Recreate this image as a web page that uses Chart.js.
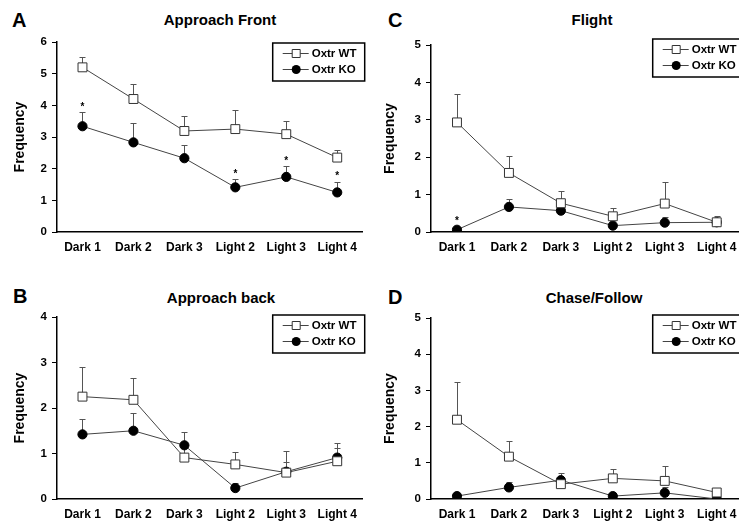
<!DOCTYPE html>
<html>
<head>
<meta charset="utf-8">
<script src="https://cdn.jsdelivr.net/npm/chart.js@4.4.0/dist/chart.umd.min.js"></script>
<style>
  html, body { margin: 0; padding: 0; background: #fff; }
  #wrap { position: relative; width: 739px; height: 521px; overflow: hidden; font-family: Arial, "Liberation Sans", sans-serif; color: #000; }
  canvas { position: absolute; }
  .letter { position: absolute; font-weight: bold; font-size: 20px; line-height: 20px; }
  .title { position: absolute; font-weight: bold; font-size: 15px; line-height: 15px; white-space: nowrap; transform: translateX(-50%); }
</style>
</head>
<body>
<div id="wrap">
  <div class="letter" style="left:12px;top:10px">A</div>
  <div class="title" style="left:220px;top:12px">Approach Front</div>
  <div class="letter" style="left:388px;top:10px">C</div>
  <div class="title" style="left:592px;top:12px">Flight</div>
  <div class="letter" style="left:13px;top:286px">B</div>
  <div class="title" style="left:221px;top:290px">Approach back</div>
  <div class="letter" style="left:388px;top:287px">D</div>
  <div class="title" style="left:594px;top:290px">Chase/Follow</div>

  <canvas id="front" width="370" height="260" style="left:0;top:0"></canvas>
  <canvas id="flight" width="380" height="260" style="left:370px;top:0"></canvas>
  <canvas id="back" width="370" height="261" style="left:0;top:260px"></canvas>
  <canvas id="chase" width="380" height="261" style="left:370px;top:260px"></canvas>
</div>

<script>
const phases = ['Dark 1', 'Dark 2', 'Dark 3', 'Light 2', 'Light 3', 'Light 4'];
const seriesNames = ['Oxtr WT', 'Oxtr KO'];

// Approach Front
const frontWT = [5.2, 4.2, 3.19, 3.25, 3.09, 2.35];
const frontWTErr = [0.33, 0.48, 0.47, 0.61, 0.42, 0.23];
const frontKO = [3.34, 2.83, 2.33, 1.41, 1.74, 1.25];
const frontKOErr = [0.44, 0.6, 0.42, 0.25, 0.33, 0.34];
const frontStars = [1, 0, 0, 1, 1, 1];

// Approach back
const backWT = [2.25, 2.18, 0.91, 0.76, 0.58, 0.83];
const backWTErr = [0.65, 0.47, 0.22, 0.28, 0.48, 0.41];
const backKO = [1.42, 1.5, 1.18, 0.24, 0.6, 0.91];
const backKOErr = [0.33, 0.39, 0.29, 0.12, 0.21, 0.22];
const backStars = [0, 0, 0, 0, 0, 0];

// Flight
const flightWT = [2.93, 1.58, 0.77, 0.42, 0.76, 0.26];
const flightWTErr = [0.76, 0.46, 0.33, 0.22, 0.57, 0.16];
const flightKO = [0.06, 0.67, 0.57, 0.17, 0.25, 0.26];
const flightKOErr = [0, 0.2, 0.08, 0.05, 0.16, 0.1];
const flightStars = [1, 0, 0, 0, 0, 0];

// Chase/Follow
const chaseWT = [2.19, 1.17, 0.41, 0.57, 0.5, 0.18];
const chaseWTErr = [1.05, 0.43, 0.1, 0.26, 0.42, 0.05];
const chaseKO = [0.08, 0.32, 0.52, 0.08, 0.17, 0];
const chaseKOErr = [0, 0.15, 0.19, 0, 0.15, 0];
const chaseStars = [0, 0, 0, 0, 0, 0];

const FONT = 'Arial, "Liberation Sans", sans-serif';
const LINE = '#444';

// error bars (upper whisker only) + significance stars
const errorBars = {
  id: 'errorBars',
  beforeDatasetsDraw(chart) {
    const {ctx, scales: {y}} = chart;
    ctx.save();
    ctx.strokeStyle = '#555';
    ctx.lineWidth = 1;
    chart.data.datasets.forEach((ds, i) => {
      chart.getDatasetMeta(i).data.forEach((pt, j) => {
        const err = ds.errorBars[j];
        if (!err) return;
        const top = Math.round(y.getPixelForValue(ds.data[j] + err)) + 0.5;
        const x = Math.round(pt.x) + 0.5;
        ctx.beginPath();
        ctx.moveTo(x, pt.y);
        ctx.lineTo(x, top);
        ctx.moveTo(x - 3, top);
        ctx.lineTo(x + 3, top);
        ctx.stroke();
      });
    });
    ctx.restore();
  },
  afterDatasetsDraw(chart) {
    const {ctx, scales: {y}} = chart;
    ctx.save();
    ctx.fillStyle = '#000';
    ctx.font = 'bold 10px ' + FONT;
    ctx.textAlign = 'center';
    ctx.textBaseline = 'middle';
    chart.data.datasets.forEach((ds, i) => {
      if (!ds.stars) return;
      chart.getDatasetMeta(i).data.forEach((pt, j) => {
        if (!ds.stars[j]) return;
        const top = y.getPixelForValue(ds.data[j] + (ds.errorBars[j] || 0));
        ctx.fillText('*', pt.x, Math.min(top, pt.y - 4) - 5);
      });
    });
    ctx.restore();
  }
};

// boxed legend inside the plot, top right
const boxLegend = {
  id: 'boxLegend',
  afterDraw(chart, args, opts) {
    const {ctx, chartArea} = chart;
    const left = chartArea.right - 90;
    const top = chartArea.top + opts.dy;
    ctx.save();
    ctx.strokeStyle = '#000';
    ctx.lineWidth = 1.5;
    ctx.fillStyle = '#fff';
    ctx.fillRect(left, top, 92, 38);
    ctx.strokeRect(left, top, 92, 38);
    chart.data.datasets.forEach((ds, i) => {
      const yy = top + 10.5 + i * 16;
      ctx.strokeStyle = LINE;
      ctx.lineWidth = 1;
      ctx.beginPath();
      ctx.moveTo(left + 10, yy);
      ctx.lineTo(left + 36, yy);
      ctx.stroke();
      ctx.beginPath();
      if (ds.pointStyle === 'rect') {
        ctx.fillStyle = '#fff';
        ctx.strokeStyle = '#333';
        ctx.rect(left + 19.5, yy - 4, 8, 8);
        ctx.fill();
        ctx.stroke();
      } else {
        ctx.fillStyle = '#000';
        ctx.arc(left + 23.5, yy, 4.5, 0, Math.PI * 2);
        ctx.fill();
      }
      ctx.fillStyle = '#000';
      ctx.font = 'bold 11.5px ' + FONT;
      ctx.textBaseline = 'middle';
      ctx.fillText(ds.label, left + 39, yy + 0.5);
    });
    ctx.restore();
  }
};

function makePanel(id, wt, wtErr, ko, koErr, stars, yMax, area, legendDy) {
  const canvas = document.getElementById(id);
  return new Chart(canvas, {
    type: 'line',
    data: {
      labels: phases,
      datasets: [
        {
          label: seriesNames[0],
          data: wt,
          errorBars: wtErr,
          borderColor: LINE,
          borderWidth: 1,
          pointStyle: 'rect',
          pointRadius: 6.3,
          pointBackgroundColor: '#fff',
          pointBorderColor: '#333',
          pointBorderWidth: 1,
          tension: 0
        },
        {
          label: seriesNames[1],
          data: ko,
          errorBars: koErr,
          stars: stars,
          borderColor: LINE,
          borderWidth: 1,
          pointStyle: 'circle',
          pointRadius: 4.6,
          pointBackgroundColor: '#000',
          pointBorderColor: '#000',
          pointBorderWidth: 1,
          tension: 0
        }
      ]
    },
    options: {
      responsive: false,
      devicePixelRatio: 1,
      animation: false,
      events: [],
      layout: {
        padding: {top: area.top, right: canvas.width - area.right, left: 0, bottom: 0}
      },
      plugins: {
        legend: {display: false},
        tooltip: {enabled: false},
        boxLegend: {dy: legendDy}
      },
      scales: {
        x: {
          offset: true,
          grid: {display: false, drawTicks: false},
          border: {display: true, color: '#000', width: 1.5},
          ticks: {color: '#000', font: {family: FONT, size: 12, weight: 'bold'}, padding: 8, maxRotation: 0, autoSkip: false},
          afterFit(s) { s.height = canvas.height - area.bottom; }
        },
        y: {
          min: 0,
          max: yMax,
          grid: {drawOnChartArea: false, tickLength: 5, color: '#000', lineWidth: 1},
          border: {display: true, color: '#000', width: 1.5},
          ticks: {stepSize: 1, color: '#000', font: {family: FONT, size: 11.5, weight: 'bold'}, padding: 5},
          title: {display: true, text: 'Frequency', color: '#000', font: {family: FONT, size: 14, weight: 'bold'}, padding: {top: 11.5, bottom: 0}},
          afterFit(s) { s.width = area.left; }
        }
      }
    },
    plugins: [errorBars, boxLegend]
  });
}

makePanel('front', frontWT, frontWTErr, frontKO, frontKOErr, frontStars, 6, {left: 57, right: 363, top: 42, bottom: 232}, 1);
makePanel('flight', flightWT, flightWTErr, flightKO, flightKOErr, flightStars, 5, {left: 61, right: 375, top: 45, bottom: 232}, -6);
makePanel('back', backWT, backWTErr, backKO, backKOErr, backStars, 4, {left: 57, right: 363, top: 57, bottom: 239}, -2);
makePanel('chase', chaseWT, chaseWTErr, chaseKO, chaseKOErr, chaseStars, 5, {left: 61, right: 375, top: 58, bottom: 239}, -3);
</script>
</body>
</html>
